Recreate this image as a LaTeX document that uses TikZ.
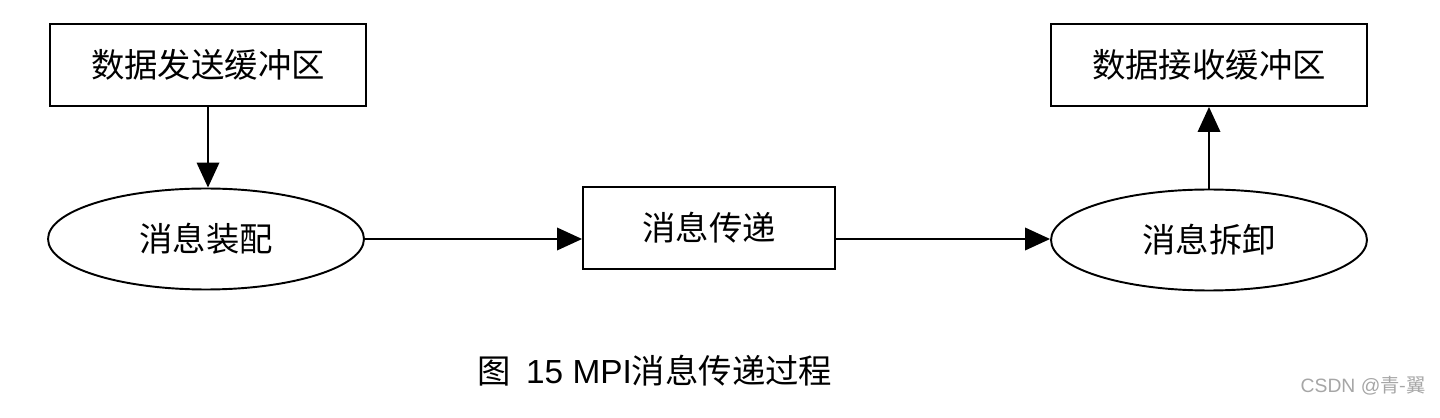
\documentclass[tikz,border=0pt]{standalone}
\usepackage{fontspec}
\setmainfont{Noto Sans CJK SC}
\newfontfamily\latinf{Liberation Sans}
\usetikzlibrary{shapes.geometric,arrows.meta}
\begin{document}
\begin{tikzpicture}[x=0.02cm,y=-0.02cm,
  boxs/.style={draw,line width=1.1pt,minimum width=6.32cm,minimum height=1.64cm,inner sep=0pt,font=\fontsize{19}{22}\selectfont},
  ells/.style={draw,ellipse,line width=1.1pt,minimum width=6.32cm,minimum height=2.02cm,inner sep=0pt,font=\fontsize{19}{22}\selectfont},
  arr/.style={line width=1.1pt,-{Triangle[length=0.5cm,width=0.45cm]}}]
\useasboundingbox (0,0) rectangle (1440,418);
\node[boxs] (send) at (208,65) {数据发送缓冲区};
\node[ells] (asm) at (206,239) {消息装配};
\node[boxs,minimum width=5.04cm] (pass) at (709,228) {消息传递};
\node[ells] (dis) at (1209,240) {消息拆卸};
\node[boxs] (recv) at (1209,65) {数据接收缓冲区};
\draw[arr] (send.south) -- (send.south |- asm.north);
\draw[arr] (asm.east) -- (pass.west |- asm.east);
\draw[arr] (pass.east |- asm.east) -- (dis.west |- asm.east);
\draw[arr] (dis.north) -- (recv.south);
\node[font=\fontsize{19}{22}\selectfont] (cap) at (655,371) {图\ \ {\latinf 15 MPI}消息传递过程};
\node[font=\fontsize{11}{13}\selectfont,text=gray!70,anchor=east] (wm) at (1432,386) {{\latinf CSDN @}青-翼};
\end{tikzpicture}
\end{document}
